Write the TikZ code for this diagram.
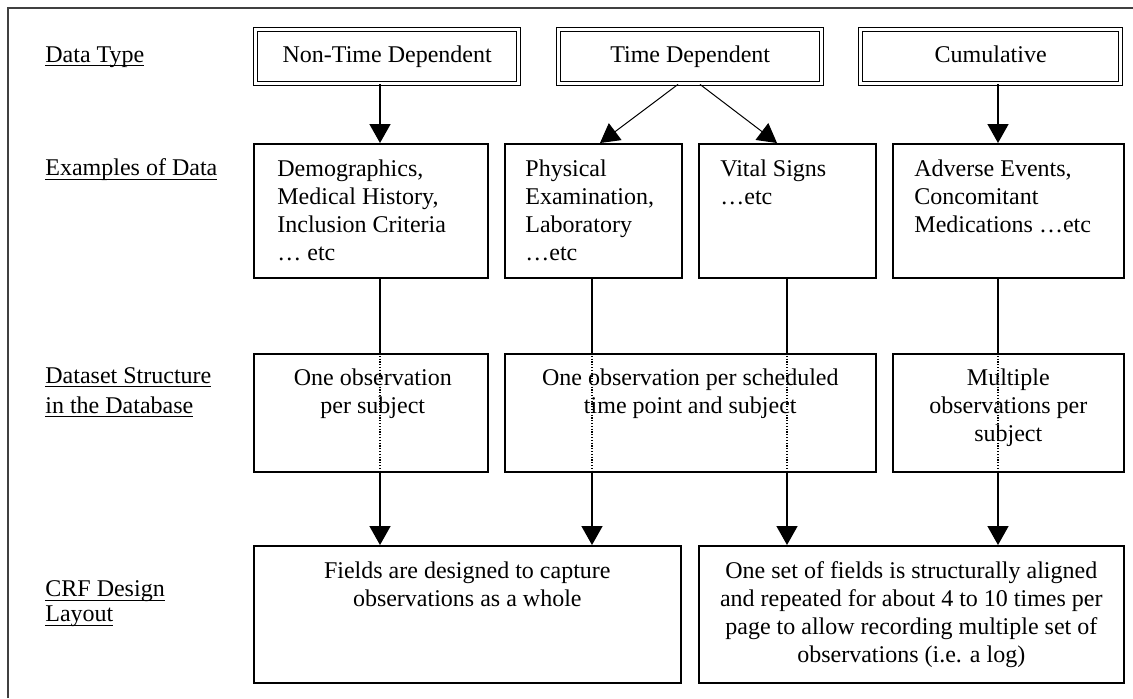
\documentclass[tikz,border=0pt]{standalone}
\usepackage{fontspec}
\setmainfont{Liberation Serif}
\usetikzlibrary{arrows.meta}

\newcommand{\ulbl}[1]{\sbox0{#1}\rlap{\rule[-1.9pt]{\wd0}{0.5pt}}\usebox0}

\tikzset{
  typebox/.style={draw, double, line width=0.7pt, double distance=1.3pt, anchor=north west, minimum height=27pt, inner sep=0pt, text height=8.3pt, text depth=2.6pt},
  plainbox/.style={draw, line width=0.8pt, anchor=north west, inner sep=0pt},
  boxtext/.style={inner sep=0pt},
  rowlabel/.style={anchor=north west, align=left, inner sep=0pt},
  conn/.style={line width=0.8pt, -{Triangle[length=9.5pt,width=10.5pt]}},
  thinconn/.style={line width=0.5pt, -{Triangle[length=9.5pt,width=10.5pt]}},
  link/.style={line width=0.8pt},
  dotlink/.style={line width=0.6pt, dash pattern=on 0.6pt off 0.8pt},
}

\begin{document}
\begin{tikzpicture}[x=0.5pt, y=-0.5pt, font=\fontsize{12}{14}\selectfont]
\useasboundingbox (0,0) rectangle (1133,698);
\draw[line width=1pt, black!75] (8,698) -- (8,8) -- (1133,8);

\node[rowlabel] (lbltype) at (45,46) {\ulbl{Data Type}};
\node[rowlabel] (lblex) at (45,158.6) {\ulbl{Examples of Data}};
\node[rowlabel] (lblds) at (45,366.8) {\ulbl{Dataset Structure}\\[1pt]\ulbl{in the Database}};
\node[rowlabel] (lblcrf) at (45,580.6) {\ulbl{CRF Design}\\[-1.5pt]\ulbl{Layout}};

\node[typebox, minimum width=131.5pt] (nontime) at (255,29) {Non-Time Dependent};
\node[typebox, minimum width=131.5pt] (timedep) at (558,29) {Time Dependent};
\node[typebox, minimum width=130pt] (cumul) at (860,29) {Cumulative};

\node[plainbox, minimum width=117pt, minimum height=67pt] (demog) at (253,143) {};
\node[plainbox, minimum width=88.5pt, minimum height=67pt] (physex) at (504,143) {};
\node[plainbox, minimum width=88.5pt, minimum height=67pt] (vital) at (698,143) {};
\node[plainbox, minimum width=115.5pt, minimum height=67pt] (adverse) at (892,143) {};

\node[boxtext, anchor=north west, align=left] (demogtxt) at ([xshift=12pt, yshift=-8.3pt]demog.north west) {Demographics,\\Medical History,\\Inclusion Criteria\\\ldots\ etc};
\node[boxtext, anchor=north west, align=left] (physextxt) at ([xshift=10.5pt, yshift=-8.3pt]physex.north west) {Physical\\Examination,\\Laboratory\\\ldots etc};
\node[boxtext, anchor=north west, align=left] (vitaltxt) at ([xshift=11pt, yshift=-8.3pt]vital.north west) {Vital Signs\\\ldots etc};
\node[boxtext, anchor=north west, align=left] (adversetxt) at ([xshift=11pt, yshift=-8.3pt]adverse.north west) {Adverse Events,\\Concomitant\\Medications \ldots etc};

\node[plainbox, minimum width=117pt, minimum height=59pt] (onesubj) at (253,353) {};
\node[plainbox, minimum width=185.5pt, minimum height=59pt] (onesched) at (504,353) {};
\node[plainbox, minimum width=115.5pt, minimum height=59pt] (multobs) at (892,353) {};

\node[boxtext, anchor=north, align=center] (onesubjtxt) at ([xshift=1pt, yshift=-7.8pt]onesubj.north) {One observation\\per subject};
\node[boxtext, anchor=north, align=center] (oneschedtxt) at ([yshift=-7.8pt]onesched.north) {One observation per scheduled\\time point and subject};
\node[boxtext, anchor=north, align=center] (multobstxt) at ([yshift=-7.8pt]multobs.north) {Multiple\\observations per\\subject};

\node[plainbox, minimum width=213.5pt, minimum height=68.5pt] (whole) at (253,545) {};
\node[plainbox, minimum width=212.5pt, minimum height=68.5pt] (logrep) at (698,545) {};

\node[boxtext, anchor=north, align=center] (wholetxt) at ([yshift=-8pt]whole.north) {Fields are designed to capture\\observations as a whole};
\node[boxtext, anchor=north, align=center] (logreptxt) at ([yshift=-8pt]logrep.north) {One set of fields is structurally aligned\\and repeated for about 4 to 10 times per\\page to allow recording multiple set of\\observations (i.e. a log)};

\coordinate (x1) at (380,0);
\coordinate (x2) at (592,0);
\coordinate (x3) at (787,0);
\coordinate (x4) at (998,0);
\coordinate (ta) at (678,0);
\coordinate (tb) at (700,0);
\coordinate (pa) at (600,0);
\coordinate (pb) at (777,0);

\draw[conn] (nontime.south -| x1) -- (demog.north -| x1);
\draw[thinconn] (timedep.south -| ta) -- (physex.north -| pa);
\draw[thinconn] (timedep.south -| tb) -- (vital.north -| pb);
\draw[conn] (cumul.south -| x4) -- (adverse.north -| x4);

\draw[link] (demog.south -| x1) -- (onesubj.north -| x1);
\draw[link] (physex.south -| x2) -- (onesched.north -| x2);
\draw[link] (vital.south -| x3) -- (onesched.north -| x3);
\draw[link] (adverse.south -| x4) -- (multobs.north -| x4);

\draw[dotlink] (onesubj.north -| x1) -- (onesubj.south -| x1);
\draw[dotlink] (onesched.north -| x2) -- (onesched.south -| x2);
\draw[dotlink] (onesched.north -| x3) -- (onesched.south -| x3);
\draw[dotlink] (multobs.north -| x4) -- (multobs.south -| x4);

\draw[conn] (onesubj.south -| x1) -- (whole.north -| x1);
\draw[conn] (onesched.south -| x2) -- (whole.north -| x2);
\draw[conn] (onesched.south -| x3) -- (logrep.north -| x3);
\draw[conn] (multobs.south -| x4) -- (logrep.north -| x4);

\end{tikzpicture}
\end{document}
